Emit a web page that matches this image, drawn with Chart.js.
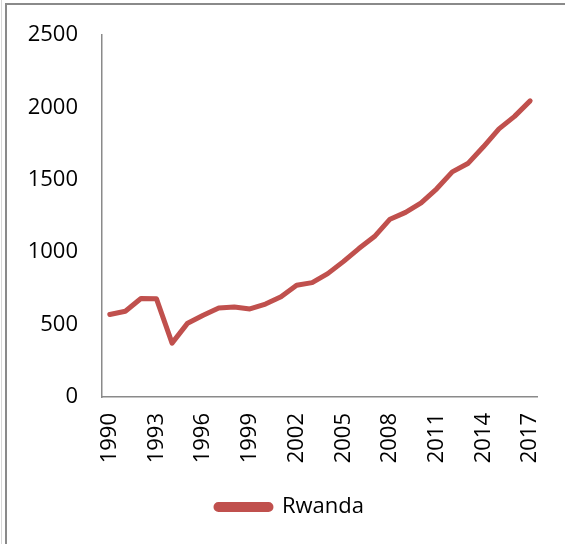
<!DOCTYPE html>
<html>
<head>
<meta charset="utf-8">
<script src="https://cdn.jsdelivr.net/npm/chart.js@4.4.0/dist/chart.umd.min.js"></script>
<style>
html,body{margin:0;padding:0;background:#fff;}
#wrap{position:absolute;left:0;top:0;width:565px;height:544px;}
#frame{position:absolute;left:5px;top:3px;width:600px;height:600px;border-left:2px solid #8a8a8a;border-top:2px solid #8a8a8a;box-sizing:border-box;pointer-events:none;}
#edge{position:absolute;left:1px;top:0;width:1px;height:544px;background:#d8d8d8;}
</style>
</head>
<body>
<div id="wrap"><canvas id="c" width="565" height="544"></canvas></div>
<div id="edge"></div>
<div id="frame"></div>
<script>
const years = ['1990','1991','1992','1993','1994','1995','1996','1997','1998','1999','2000','2001','2002','2003','2004','2005','2006','2007','2008','2009','2010','2011','2012','2013','2014','2015','2016','2017'];
const rwanda = [570, 592, 680, 678, 372, 510, 565, 615, 622, 608, 642, 692, 772, 790, 852, 935, 1025, 1108, 1228, 1275, 1340, 1438, 1555, 1612, 1728, 1852, 1938, 2045];
const yTicks = [0, 500, 1000, 1500, 2000, 2500];

const FONT = '"Open Sans", "Liberation Sans", sans-serif';

const shiftLegend = {
  id: 'shiftLegend',
  afterLayout(chart) {
    if (chart.legend) { chart.legend.left += 42; }
  }
};

new Chart(document.getElementById('c'), {
  type: 'line',
  data: {
    labels: years,
    datasets: [{
      label: 'Rwanda',
      data: rwanda,
      borderColor: '#C0504D',
      backgroundColor: '#C0504D',
      borderWidth: 5,
      pointRadius: 0,
      tension: 0,
      borderJoinStyle: 'round',
      borderCapStyle: 'round',
      fill: false
    }]
  },
  plugins: [shiftLegend],
  options: {
    responsive: false,
    animation: false,
    layout: { padding: { left: 0, right: 27, top: 35, bottom: 16 } },
    plugins: {
      tooltip: { enabled: false },
      legend: {
        position: 'bottom',
        labels: {
          color: '#000',
          font: { family: FONT, size: 22 },
          boxWidth: 55,
          boxHeight: 5,
          useBorderRadius: true,
          borderRadius: 2.5,
          padding: 6
        }
      }
    },
    scales: {
      x: {
        offset: true,
        grid: { display: false },
        border: { display: true, color: '#8a8a8a', width: 1.5 },
        ticks: {
          color: '#000',
          font: { family: FONT, size: 22 },
          minRotation: 90,
          maxRotation: 90,
          autoSkip: false,
          padding: 8,
          callback: function(v, i) { return i % 3 === 0 ? years[i] : null; }
        },
        afterFit: function(s) { s.height = 93; }
      },
      y: {
        min: 0,
        max: 2500,
        grid: { display: false },
        border: { display: true, color: '#8a8a8a', width: 1.5 },
        afterBuildTicks: function(s) { s.ticks = yTicks.map(v => ({ value: v })); },
        ticks: {
          color: '#000',
          font: { family: FONT, size: 22 },
          padding: 16,
          callback: function(v) { return String(v); }
        },
        afterFit: function(s) { s.width = 102; }
      }
    }
  }
});
</script>
</body>
</html>
